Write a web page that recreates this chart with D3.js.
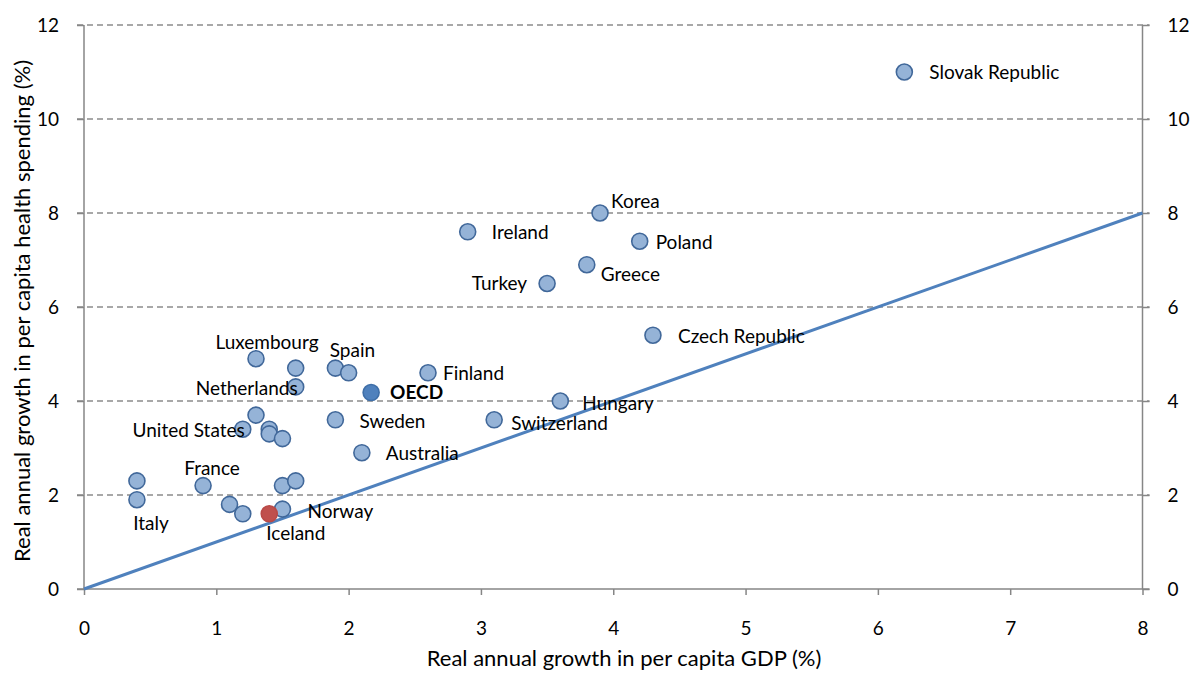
<!DOCTYPE html>
<html>
<head>
<meta charset="utf-8">
<script src="https://cdn.jsdelivr.net/npm/d3@7"></script>
<style>
  body { margin: 0; background: #fff; }
  svg text { font-family: "Lato", "Liberation Sans", sans-serif; fill: #000; }
</style>
</head>
<body>
<svg id="chart" width="1196" height="673"></svg>
<script>
// data
const countries = ["Slovak Republic", "Korea", "Ireland", "Poland", "Greece", "Turkey", "Czech Republic",
  "Finland", "OECD", "Hungary", "Switzerland", "Sweden", "Australia", "Spain", "", "Luxembourg", "",
  "Netherlands", "", "United States", "", "", "", "", "France", "Italy", "", "", "", "", "Norway", "Iceland"];
const gdpGrowth = [6.2, 3.9, 2.9, 4.2, 3.8, 3.5, 4.3,
  2.6, 2.17, 3.6, 3.1, 1.9, 2.1, 1.9, 2.0, 1.3, 1.6,
  1.6, 1.3, 1.2, 1.4, 1.4, 1.5, 0.4, 0.9, 0.4, 1.5, 1.6, 1.1, 1.2, 1.5, 1.4];
const healthGrowth = [11.0, 8.0, 7.6, 7.4, 6.9, 6.5, 5.4,
  4.6, 4.18, 4.0, 3.6, 3.6, 2.9, 4.7, 4.6, 4.9, 4.7,
  4.3, 3.7, 3.4, 3.4, 3.3, 3.2, 2.3, 2.2, 1.9, 2.2, 2.3, 1.8, 1.6, 1.7, 1.6];
const xTicks = [0, 1, 2, 3, 4, 5, 6, 7, 8];
const yTicks = [0, 2, 4, 6, 8, 10, 12];
const diagonal = [[0, 0], [8, 8]];

// label placement, pixels relative to the point
const labelPos = {
  "Slovak Republic": [25, 0, "start"], "Korea": [11, -12, "start"], "Ireland": [24, 1, "start"],
  "Poland": [16, 1, "start"], "Greece": [14, 10, "start"], "Turkey": [-20, 0, "end"],
  "Czech Republic": [25, 1, "start"], "Finland": [15, 1, "start"], "OECD": [19, 0, "start"],
  "Hungary": [22, 2, "start"], "Switzerland": [17, 4, "start"], "Sweden": [24, 2, "start"],
  "Australia": [24, 1, "start"], "Spain": [17, -18, "middle"], "Luxembourg": [11, -16, "middle"],
  "Netherlands": [2, 1, "end"], "United States": [2, 1, "end"], "France": [9, -17, "middle"],
  "Italy": [14, 24, "middle"], "Norway": [25, 2, "start"], "Iceland": [-3, 20, "start"]
};

const svg = d3.select("#chart");
const x = d3.scaleLinear().domain([0, 8]).range([84, 1142.5]);
const y = d3.scaleLinear().domain([0, 12]).range([589, 25]);
const axisCol = "#868686";

// dashed grid
svg.append("g").selectAll("line")
  .data(yTicks.filter(d => d > 0))
  .enter().append("line")
  .attr("x1", x(0) - 7).attr("x2", x(8) + 7)
  .attr("y1", d => y(d)).attr("y2", d => y(d))
  .attr("stroke", "#8c8c8c").attr("stroke-width", 1.3)
  .attr("stroke-dasharray", "6,4");

// axes
const left = svg.append("g").attr("transform", `translate(${x(0)},0)`)
  .call(d3.axisLeft(y).tickValues(yTicks).tickSize(7).tickPadding(18).tickFormat(d3.format("d")));
const right = svg.append("g").attr("transform", `translate(${x(8)},0)`)
  .call(d3.axisRight(y).tickValues(yTicks).tickSize(7).tickPadding(18).tickFormat(d3.format("d")));
const bottom = svg.append("g").attr("transform", `translate(0,${y(0)})`)
  .call(d3.axisBottom(x).tickValues(xTicks).tickSize(6).tickPadding(27).tickFormat(d3.format("d")));

[left, right, bottom].forEach(g => {
  g.select(".domain").remove();
  g.selectAll("line").attr("stroke", axisCol).attr("stroke-width", 1.5);
  g.selectAll("text").attr("font-size", 19).attr("font-family", "Lato, sans-serif").attr("fill", "#000");
});

svg.append("line").attr("x1", x(0)).attr("x2", x(0)).attr("y1", y(0)).attr("y2", y(12))
  .attr("stroke", axisCol).attr("stroke-width", 1.5);
svg.append("line").attr("x1", x(8)).attr("x2", x(8)).attr("y1", y(0)).attr("y2", y(12))
  .attr("stroke", axisCol).attr("stroke-width", 1.5);
svg.append("line").attr("x1", x(0) - 7).attr("x2", x(8) + 7).attr("y1", y(0)).attr("y2", y(0))
  .attr("stroke", axisCol).attr("stroke-width", 1.5);

// 45 degree line
svg.append("path")
  .datum(diagonal)
  .attr("d", d3.line().x(d => x(d[0])).y(d => y(d[1])))
  .attr("stroke", "#4f81bd").attr("stroke-width", 3).attr("fill", "none");

// points
const pts = countries.map((c, i) => ({ name: c, gx: gdpGrowth[i], hy: healthGrowth[i] }));
svg.append("g").selectAll("circle")
  .data(pts)
  .enter().append("circle")
  .attr("cx", d => x(d.gx)).attr("cy", d => y(d.hy)).attr("r", 8)
  .attr("fill", d => d.name === "OECD" ? "#4f81bd" : d.name === "Iceland" ? "#c0504d" : "#95b3d7")
  .attr("stroke", d => d.name === "OECD" ? "#3f6fa8" : d.name === "Iceland" ? "#b94a47" : "#41689a")
  .attr("stroke-width", 1.6);

svg.append("g").selectAll("text")
  .data(pts.filter(d => d.name !== ""))
  .enter().append("text")
  .attr("x", d => x(d.gx) + labelPos[d.name][0])
  .attr("y", d => y(d.hy) + labelPos[d.name][1])
  .attr("dy", "0.35em")
  .attr("text-anchor", d => labelPos[d.name][2])
  .attr("font-size", 19)
  .attr("font-weight", d => d.name === "OECD" ? "bold" : "normal")
  .text(d => d.name);

// axis titles
svg.append("text")
  .attr("transform", `translate(30,311) rotate(-90)`)
  .attr("text-anchor", "middle").attr("font-size", 22)
  .text("Real annual growth in per capita health spending (%)");
svg.append("text")
  .attr("x", 624).attr("y", 666)
  .attr("text-anchor", "middle").attr("font-size", 22)
  .text("Real annual growth in per capita GDP (%)");
</script>
</body>
</html>
